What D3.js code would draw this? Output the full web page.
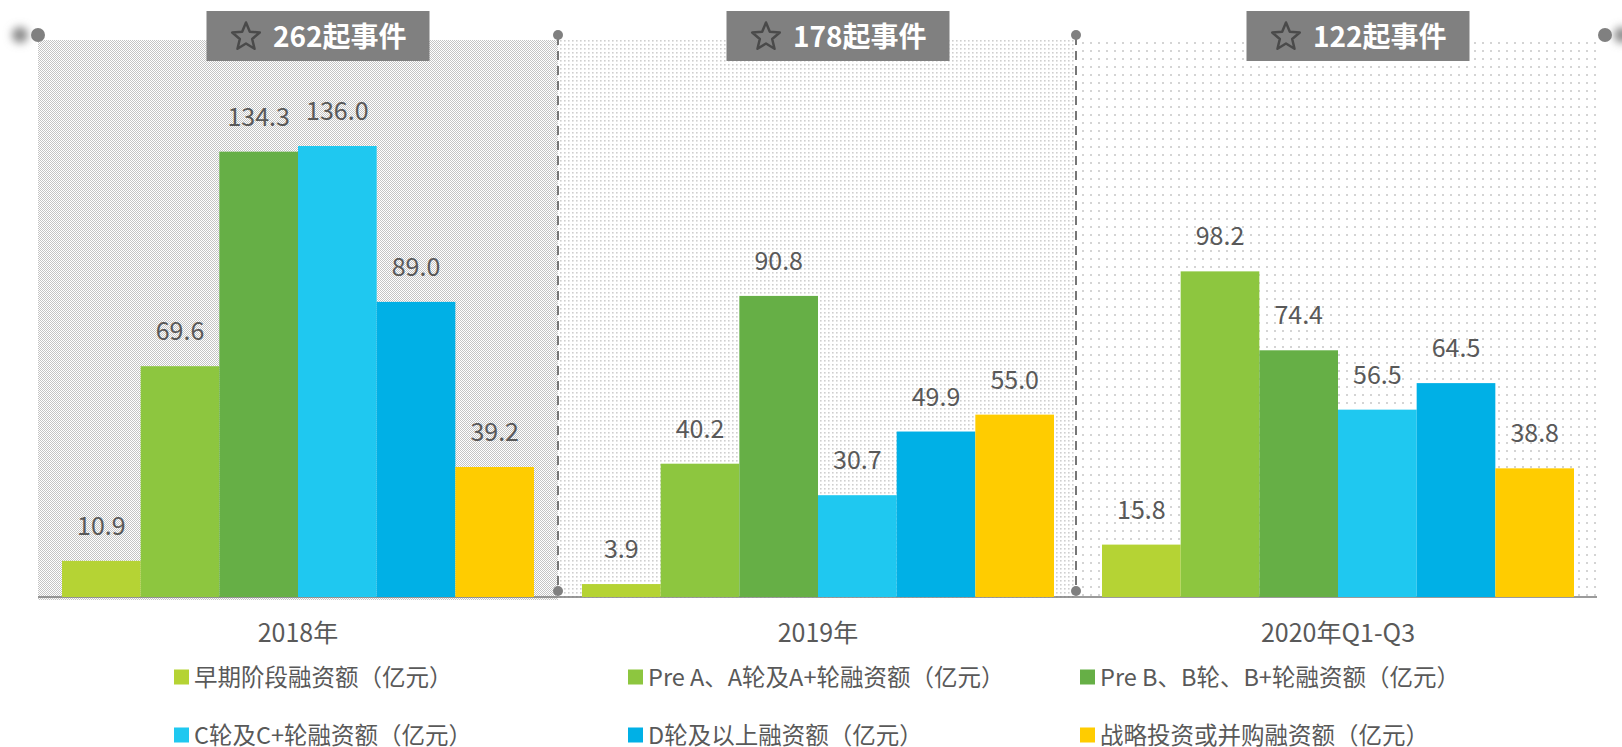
<!DOCTYPE html>
<html>
<head>
<meta charset="utf-8">
<script src="https://cdn.jsdelivr.net/npm/d3@7"></script>
<style>
  body { margin: 0; background: #fff; }
  svg { display: block; font-family: "Noto Sans CJK SC", "Noto Sans", sans-serif; }
</style>
</head>
<body>
<div id="chart"></div>
<script>
const years = ['2018年', '2019年', '2020年Q1-Q3']
const events = [262, 178, 122]
const seriesNames = [
  '早期阶段融资额（亿元）',
  'Pre A、A轮及A+轮融资额（亿元）',
  'Pre B、B轮、B+轮融资额（亿元）',
  'C轮及C+轮融资额（亿元）',
  'D轮及以上融资额（亿元）',
  '战略投资或并购融资额（亿元）'
]
const early = [10.9, 3.9, 15.8]
const preA = [69.6, 40.2, 98.2]
const preB = [134.3, 90.8, 74.4]
const cRound = [136.0, 30.7, 56.5]
const dRound = [89.0, 49.9, 64.5]
const strategic = [39.2, 55.0, 38.8]
const colors = ['#B5D334', '#8DC63F', '#66AF46', '#1FC8F0', '#00B0E6', '#FFCC00']

const allSeries = [early, preA, preB, cRound, dRound, strategic]

let w = 1622, h = 747,
  baseY = 597

let svg = d3.select('#chart').append('svg')
  .attr('width', w)
  .attr('height', h)

const defs = svg.append('defs')

// background patterns, one per year panel
let p1 = defs.append('pattern').attr('id', 'pat0')
  .attr('patternUnits', 'userSpaceOnUse').attr('width', 2).attr('height', 2)
p1.append('rect').attr('width', 1).attr('height', 1).attr('fill', '#c4c4c4')
p1.append('rect').attr('x', 1).attr('y', 1).attr('width', 1).attr('height', 1).attr('fill', '#c4c4c4')

let p2 = defs.append('pattern').attr('id', 'pat1')
  .attr('patternUnits', 'userSpaceOnUse').attr('width', 4).attr('height', 4)
p2.append('rect').attr('width', 1.6).attr('height', 1.6).attr('fill', '#cfcfcf')

let p3 = defs.append('pattern').attr('id', 'pat2')
  .attr('patternUnits', 'userSpaceOnUse').attr('width', 8).attr('height', 8)
p3.append('rect').attr('x', 2).attr('y', 2).attr('width', 2).attr('height', 2).attr('fill', '#d4d4d4')

defs.append('filter').attr('id', 'blur')
  .attr('x', '-100%').attr('y', '-100%').attr('width', '300%').attr('height', '300%')
  .append('feGaussianBlur').attr('stdDeviation', 4)

defs.append('filter').attr('id', 'lineShadow')
  .attr('x', '-5%').attr('y', '-200%').attr('width', '110%').attr('height', '500%')
  .append('feDropShadow').attr('dx', 0).attr('dy', 2).attr('stdDeviation', 1.5)
  .attr('flood-color', '#000').attr('flood-opacity', 0.25)

// scales
let x0 = d3.scaleBand()
  .domain(years)
  .range([38, 1598])

let x1 = d3.scaleBand()
  .domain(d3.range(seriesNames.length))
  .range([24, x0.bandwidth() - 24])

let y = d3.scaleLinear()
  .domain([0, 160])
  .range([baseY, baseY - 160 * 3.316])

// panel edges
const edges = [38, x0(years[1]), x0(years[2]) - 2, 1605]

svg.append('g').selectAll('rect')
  .data(years)
  .enter().append('rect')
  .attr('x', (d, i) => edges[i])
  .attr('y', 40)
  .attr('width', (d, i) => (i === 2 ? 1597 : edges[i + 1]) - edges[i])
  .attr('height', baseY + 3 - 40)
  .attr('fill', (d, i) => `url(#pat${i})`)

// baseline
svg.append('line')
  .attr('x1', 38).attr('x2', 1597)
  .attr('y1', baseY).attr('y2', baseY)
  .attr('stroke', '#7a7a7a').attr('stroke-width', 1.5)

// bars
let groups = svg.append('g').selectAll('g')
  .data(years)
  .enter().append('g')
  .attr('transform', d => `translate(${x0(d)},0)`)

groups.selectAll('rect')
  .data((d, i) => allSeries.map((s, k) => ({ k, v: s[i] })))
  .enter().append('rect')
  .attr('x', d => x1(d.k))
  .attr('y', d => y(d.v))
  .attr('width', x1.bandwidth())
  .attr('height', d => baseY - y(d.v))
  .attr('fill', d => colors[d.k])

groups.selectAll('text')
  .data((d, i) => allSeries.map((s, k) => ({ k, v: s[i] })))
  .enter().append('text')
  .attr('x', d => x1(d.k) + x1.bandwidth() / 2)
  .attr('y', d => y(d.v) - 26)
  .attr('text-anchor', 'middle')
  .attr('font-size', 25)
  .attr('fill', '#595959')
  .text(d => d.v.toFixed(1))

// dashed dividers
;[edges[1], edges[2]].forEach(xx => {
  svg.append('line')
    .attr('x1', xx).attr('x2', xx)
    .attr('y1', 36).attr('y2', 591)
    .attr('stroke', '#777').attr('stroke-width', 2)
    .attr('stroke-dasharray', '9,6')
  svg.append('circle').attr('cx', xx).attr('cy', 591).attr('r', 5).attr('fill', '#808080')
})

// top line with end dots
svg.append('circle').attr('cx', 20).attr('cy', 35).attr('r', 8)
  .attr('fill', '#888').attr('filter', 'url(#blur)')
svg.append('circle').attr('cx', 1622).attr('cy', 35).attr('r', 8)
  .attr('fill', '#888').attr('filter', 'url(#blur)')
svg.append('line')
  .attr('x1', 38).attr('x2', 1605)
  .attr('y1', 35).attr('y2', 35)
  .attr('stroke', '#979797').attr('stroke-width', 2.5)
  .attr('filter', 'url(#lineShadow)')
svg.append('circle').attr('cx', 38).attr('cy', 35).attr('r', 7).attr('fill', '#808080')
svg.append('circle').attr('cx', 1605).attr('cy', 35).attr('r', 7).attr('fill', '#808080')
svg.append('circle').attr('cx', edges[1]).attr('cy', 35).attr('r', 5).attr('fill', '#808080')
svg.append('circle').attr('cx', edges[2]).attr('cy', 35).attr('r', 5).attr('fill', '#808080')

// header boxes
const starPath = (cx, cy, R, r) => {
  let pts = []
  for (let i = 0; i < 10; i++) {
    let a = -Math.PI / 2 + i * Math.PI / 5
    let rad = i % 2 === 0 ? R : r
    pts.push([cx + rad * Math.cos(a), cy + rad * Math.sin(a)])
  }
  return 'M' + pts.map(p => p.join(',')).join('L') + 'Z'
}

let heads = svg.append('g').selectAll('g')
  .data(years)
  .enter().append('g')
  .attr('transform', d => `translate(${x0(d) + x0.bandwidth() / 2 + 20},0)`)

heads.append('rect')
  .attr('x', -111.5).attr('y', 11)
  .attr('width', 223).attr('height', 50)
  .attr('fill', '#808080')

heads.append('path')
  .attr('d', starPath(-72, 37, 14.5, 6.5))
  .attr('fill', 'none')
  .attr('stroke', '#4a4a4a')
  .attr('stroke-width', 2.5)
  .attr('stroke-linejoin', 'round')

heads.append('text')
  .attr('x', -45).attr('y', 47)
  .attr('font-size', 28)
  .attr('font-weight', 'bold')
  .attr('fill', '#fff')
  .text((d, i) => events[i] + '起事件')

// category labels
svg.append('g').selectAll('text')
  .data(years)
  .enter().append('text')
  .attr('x', d => x0(d) + x0.bandwidth() / 2)
  .attr('y', 642)
  .attr('text-anchor', 'middle')
  .attr('font-size', 25)
  .attr('fill', '#595959')
  .text(d => d)

// legend
const legendX = [174, 628, 1080]
let legend = svg.append('g').selectAll('g')
  .data(seriesNames)
  .enter().append('g')
  .attr('transform', (d, i) => `translate(${legendX[i % 3]},${i < 3 ? 677 : 735})`)

legend.append('rect')
  .attr('y', -7.5)
  .attr('width', 15).attr('height', 15)
  .attr('fill', (d, i) => colors[i])

legend.append('text')
  .attr('x', 20).attr('y', 8.5)
  .attr('font-size', 23.5)
  .attr('fill', '#595959')
  .text(d => d)
</script>
</body>
</html>
